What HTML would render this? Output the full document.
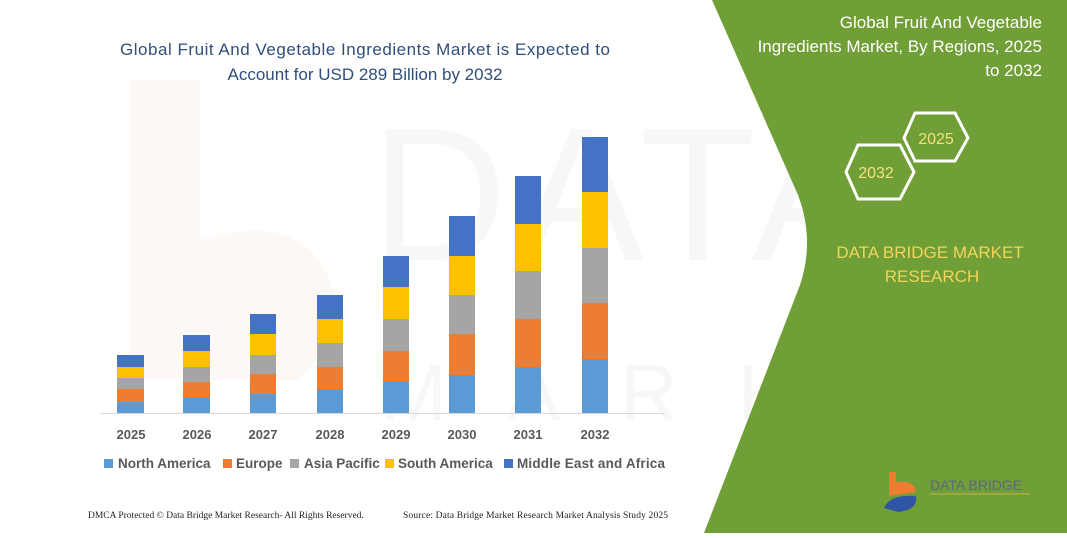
<!DOCTYPE html>
<html><head><meta charset="utf-8"><style>
body{margin:0;width:1067px;height:533px;overflow:hidden;background:#fff;font-family:"Liberation Sans",sans-serif}
</style></head><body>
<svg width="1067" height="533" xmlns="http://www.w3.org/2000/svg" font-family="Liberation Sans, sans-serif">
<rect width="1067" height="533" fill="#fff"/>
<g opacity="0.045">
<path d="M130,80 L200,80 L200,240 Q330,200 340,330 L300,380 L130,380 Z" fill="#ed7d31"/>
<text x="370" y="260" font-size="190" fill="#555" letter-spacing="10">DATA BRIDGE</text>
<text x="380" y="420" font-size="80" fill="#555" letter-spacing="60">MARKETRESEARCH</text>
</g>
<path d="M712,0 L798,195 Q815,240 800,285 L704,533 L1067,533 L1067,0 Z" fill="#709e37"/>
<text x="365" y="55" font-size="17" fill="#2f4f7a" text-anchor="middle" textLength="490">Global Fruit And Vegetable Ingredients Market is Expected to</text>
<text x="365" y="80" font-size="17" fill="#2f4f7a" text-anchor="middle">Account for USD 289 Billion by 2032</text>
<g font-size="17" fill="#fff" text-anchor="end">
<text x="1042" y="28">Global Fruit And Vegetable</text>
<text x="1042" y="52">Ingredients Market, By Regions, 2025</text>
<text x="1042" y="76">to 2032</text>
</g>
<polygon points="846,172 858,145 900,145 914,172 900,199 858,199" fill="none" stroke="#fff" stroke-width="3"/>
<polygon points="904,138 915,113 955,113 968,138 955,161 915,161" fill="none" stroke="#fff" stroke-width="3"/>
<text x="876" y="178" font-size="16" fill="#f2e27a" text-anchor="middle">2032</text>
<text x="936" y="144" font-size="16" fill="#f2e27a" text-anchor="middle">2025</text>
<text x="930" y="258" font-size="17" fill="#f2d45a" text-anchor="middle">DATA BRIDGE MARKET</text>
<text x="932" y="282" font-size="17" fill="#f2d45a" text-anchor="middle">RESEARCH</text>
<path d="M889,472 L896,472 L896,482 Q915,480 916,492 L889,496 Z" fill="#ed7d31"/>
<path d="M884,508 Q890,494 916,496 Q918,510 898,512 Z" fill="#2f55a4"/>
<text x="930" y="490" font-size="14" fill="#5a6a7a">DATA BRIDGE</text>
<line x1="930" y1="494" x2="1030" y2="494" stroke="#c8b24a" stroke-width="1"/>
<line x1="100" y1="413.5" x2="665" y2="413.5" stroke="#d9d9d9" stroke-width="1"/>
<g>
<rect x="117" y="402" width="27" height="11" fill="#5b9bd5"/><rect x="117" y="389" width="27" height="13" fill="#ed7d31"/><rect x="117" y="378" width="27" height="11" fill="#a5a5a5"/><rect x="117" y="367" width="27" height="11" fill="#ffc000"/><rect x="117" y="355" width="27" height="12" fill="#4472c4"/>
<rect x="183" y="398" width="27" height="15" fill="#5b9bd5"/><rect x="183" y="382" width="27" height="16" fill="#ed7d31"/><rect x="183" y="367" width="27" height="15" fill="#a5a5a5"/><rect x="183" y="351" width="27" height="16" fill="#ffc000"/><rect x="183" y="335" width="27" height="16" fill="#4472c4"/>
<rect x="250" y="394" width="26" height="19" fill="#5b9bd5"/><rect x="250" y="374" width="26" height="20" fill="#ed7d31"/><rect x="250" y="355" width="26" height="19" fill="#a5a5a5"/><rect x="250" y="334" width="26" height="21" fill="#ffc000"/><rect x="250" y="314" width="26" height="20" fill="#4472c4"/>
<rect x="317" y="390" width="26" height="23" fill="#5b9bd5"/><rect x="317" y="367" width="26" height="23" fill="#ed7d31"/><rect x="317" y="343" width="26" height="24" fill="#a5a5a5"/><rect x="317" y="319" width="26" height="24" fill="#ffc000"/><rect x="317" y="295" width="26" height="24" fill="#4472c4"/>
<rect x="383" y="382" width="26" height="31" fill="#5b9bd5"/><rect x="383" y="351" width="26" height="31" fill="#ed7d31"/><rect x="383" y="319" width="26" height="32" fill="#a5a5a5"/><rect x="383" y="287" width="26" height="32" fill="#ffc000"/><rect x="383" y="256" width="26" height="31" fill="#4472c4"/>
<rect x="449" y="375" width="26" height="38" fill="#5b9bd5"/><rect x="449" y="334" width="26" height="41" fill="#ed7d31"/><rect x="449" y="295" width="26" height="39" fill="#a5a5a5"/><rect x="449" y="256" width="26" height="39" fill="#ffc000"/><rect x="449" y="216" width="26" height="40" fill="#4472c4"/>
<rect x="515" y="367" width="26" height="46" fill="#5b9bd5"/><rect x="515" y="319" width="26" height="48" fill="#ed7d31"/><rect x="515" y="271" width="26" height="48" fill="#a5a5a5"/><rect x="515" y="224" width="26" height="47" fill="#ffc000"/><rect x="515" y="176" width="26" height="48" fill="#4472c4"/>
<rect x="582" y="359" width="26" height="54" fill="#5b9bd5"/><rect x="582" y="303" width="26" height="56" fill="#ed7d31"/><rect x="582" y="248" width="26" height="55" fill="#a5a5a5"/><rect x="582" y="192" width="26" height="56" fill="#ffc000"/><rect x="582" y="137" width="26" height="55" fill="#4472c4"/>
</g>
<g font-size="13" font-weight="bold" fill="#595959" text-anchor="middle">
<text x="131" y="439">2025</text><text x="197" y="439">2026</text><text x="263" y="439">2027</text><text x="330" y="439">2028</text><text x="396" y="439">2029</text><text x="462" y="439">2030</text><text x="528" y="439">2031</text><text x="595" y="439">2032</text>
</g>
<g font-size="13.5" font-weight="bold" fill="#595959">
<rect x="104" y="459" width="9" height="9" fill="#5b9bd5"/><text x="118" y="468">North America</text>
<rect x="223" y="459" width="9" height="9" fill="#ed7d31"/><text x="236" y="468">Europe</text>
<rect x="290" y="459" width="9" height="9" fill="#a5a5a5"/><text x="304" y="468">Asia Pacific</text>
<rect x="385" y="459" width="9" height="9" fill="#ffc000"/><text x="398" y="468">South America</text>
<rect x="504" y="459" width="9" height="9" fill="#4472c4"/><text x="517" y="468" textLength="148">Middle East and Africa</text>
</g>
<g font-family="Liberation Serif, serif" font-size="9.5" fill="#222">
<text x="88" y="518">DMCA Protected © Data Bridge Market Research-  All Rights Reserved.</text>
<text x="403" y="518" textLength="265">Source: Data Bridge Market Research  Market Analysis Study 2025</text>
</g>
</svg>
</body></html>
